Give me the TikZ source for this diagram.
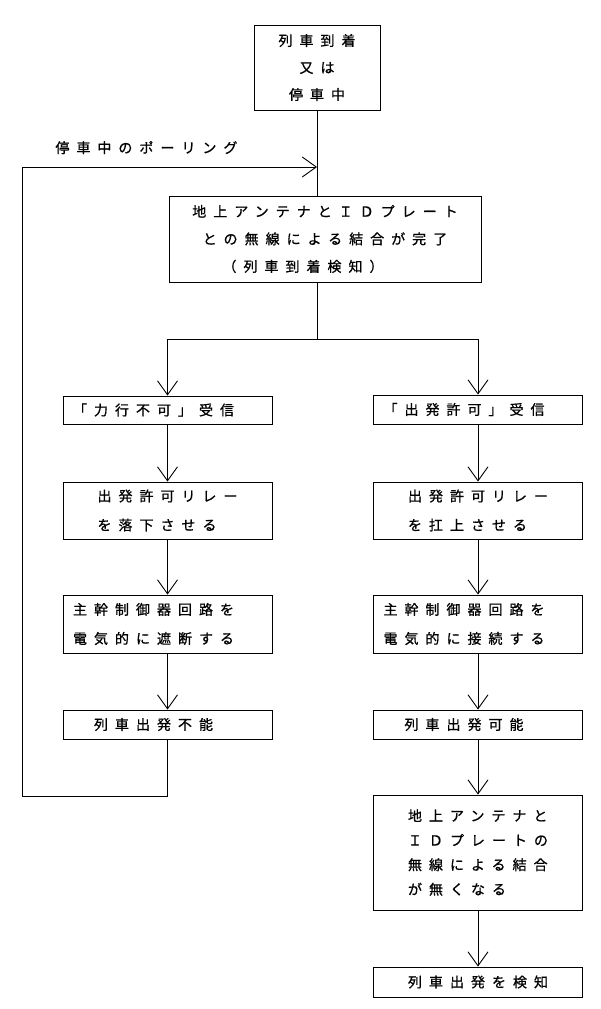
\documentclass[tikz,border=0pt]{standalone}
\usepackage{fontspec}
\newfontfamily\jp{Noto Sans CJK JP}[LetterSpace=50, FakeBold=0.8]
\usetikzlibrary{arrows.meta}

\begin{document}
\begin{tikzpicture}[
    x=1pt, y=-1pt, line width=0.9pt,
    font={\jp\fontsize{14}{27}\selectfont},
    blk/.style={draw, fill=white, inner sep=0pt, minimum width=209pt},
    pad/.style={execute at end node={\hspace*{28pt}}},
    one/.style={blk, pad, minimum height=29pt},
    two/.style={blk, minimum height=57pt, align=left, font={\jp\fontsize{14}{29}\selectfont}},
    d/.style={-{Straight Barb[length=14pt,width=20pt]}},
]
  \fill[white] (0,0) rectangle (600,1009);
  \useasboundingbox (0,0) rectangle (600,1009);
  % top part
  \node[blk, minimum width=126pt, minimum height=85pt, align=center] (arr) at (317,67.5) {列車到着\\又は\\停車中};
  \node[blk, minimum width=312pt, minimum height=86pt, align=center, font={\jp\fontsize{14}{27.5}\selectfont}] (link) at (325,239)
    {地上アンテナとＩＤプレート\\との無線による結合が完了\\（列車到着検知）\hspace*{44pt}};
  \node[inner sep=0pt, anchor=base west] (pollT) at (55,153) {停車中のポーリング};
  \coordinate (poll) at (317,167);
  \coordinate (split) at (317,339);
  \coordinate (loopc) at (22,796);
  % left column
  \node[one, minimum height=28pt] (powL) at (167.5,410) {「力行不可」受信};
  \node[two] (relL) at (167.5,510.5) {出発許可リレー\\を落下させる};
  \node[two, pad, minimum height=58pt] (ctlL) at (167.5,624) {主幹制御器回路を\\電気的に遮断する};
  \node[one] (noL) at (167.5,724.5) {列車出発不能};
  % right column
  \node[one] (okR) at (478,409.5) {「出発許可」受信};
  \node[two] (relR) at (478,510.5) {出発許可リレー\\を扛上させる};
  \node[two, pad, minimum height=58pt] (ctlR) at (478,624) {主幹制御器回路を\\電気的に接続する};
  \node[one] (goR) at (478,724.5) {列車出発可能};
  \node[blk, minimum height=115pt, align=left, font={\jp\fontsize{14}{24.5}\selectfont}] (offR) at (478,852.5)
    {地上アンテナと\\ＩＤプレートの\\無線による結合\\が無くなる};
  \node[blk, minimum height=30pt] (detR) at (478,982) {列車出発を検知};
  % connectors
  \draw (arr.south) -- (arr.south |- link.north);
  \draw (arr.south |- link.south) -- (split);
  \draw[d] (split) -| (powL.north);
  \draw[d] (split) -| (okR.north);
  \draw[d] (powL) -- (relL); \draw[d] (relL) -- (ctlL); \draw[d] (ctlL) -- (noL);
  \draw[d] (okR) -- (relR); \draw[d] (relR) -- (ctlR); \draw[d] (ctlR) -- (goR);
  \draw[d] (goR) -- (offR); \draw[d] (offR) -- (detR);
  \draw[d] (noL.south) |- (loopc) |- (poll);
\end{tikzpicture}
\end{document}
